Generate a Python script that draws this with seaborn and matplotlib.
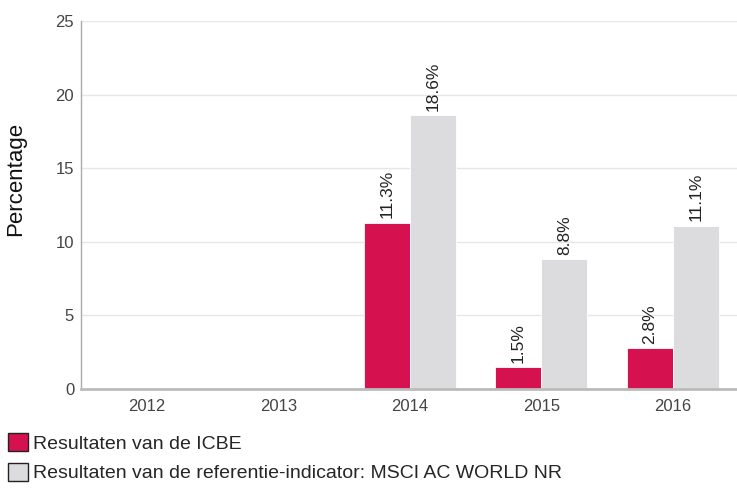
import numpy as np
import pandas as pd
import matplotlib
matplotlib.use("Agg")
import matplotlib.pyplot as plt
from matplotlib.patches import Patch
import seaborn as sns

years = ["2012", "2013", "2014", "2015", "2016"]
icbe = [np.nan, np.nan, 11.3, 1.5, 2.8]
referentie = [np.nan, np.nan, 18.6, 8.8, 11.1]
series_names = ["Resultaten van de ICBE",
                "Resultaten van de referentie-indicator: MSCI AC WORLD NR"]
colors = ["#D61150", "#DCDCDE"]

df = pd.DataFrame({
    "jaar": years * 2,
    "waarde": icbe + referentie,
    "reeks": [series_names[0]] * 5 + [series_names[1]] * 5,
})

sns.set_style("white")
plt.rcParams["font.family"] = ["Liberation Sans", "DejaVu Sans"]

fig = plt.figure(figsize=(7.37, 4.88), dpi=100)
ax = fig.add_axes([0.11, 0.203, 0.892, 0.754])

sns.barplot(data=df, x="jaar", y="waarde", hue="reeks", order=years,
            hue_order=series_names, palette=colors, width=0.7,
            saturation=1, ax=ax, legend=False, edgecolor="white", linewidth=0.6)

for cont in ax.containers:
    ax.bar_label(cont, fmt="%.1f%%", rotation=90, padding=3, fontsize=12.5,
                 color="#222222")

ax.set_ylim(0, 25)
ax.set_yticks([0, 5, 10, 15, 20, 25])
ax.yaxis.grid(True, color="#E6E6E6", linewidth=1)
ax.set_axisbelow(True)
ax.set_xlabel("")
ax.set_ylabel("Percentage", fontsize=16, color="#111111")
ax.yaxis.set_label_coords(-0.084, 0.57)
ax.tick_params(axis="both", length=0, labelsize=12, labelcolor="#444444", pad=5)
ax.tick_params(axis="x", pad=7)

for side in ["top", "right"]:
    ax.spines[side].set_visible(False)
ax.spines["left"].set_color("#AAAAAA")
ax.spines["left"].set_linewidth(1)
ax.spines["bottom"].set_color("#BBBBBB")
ax.spines["bottom"].set_linewidth(2)

handles = [Patch(facecolor=c, edgecolor="#222222", linewidth=1) for c in colors]
fig.legend(handles, series_names, loc="lower left", bbox_to_anchor=(0.003, 0.0),
           frameon=False, fontsize=14, handlelength=1.05, handleheight=1.05,
           handletextpad=0.25, labelspacing=0.5, borderaxespad=0.1,
           borderpad=0.2)

fig.savefig("out.png", dpi=100)
